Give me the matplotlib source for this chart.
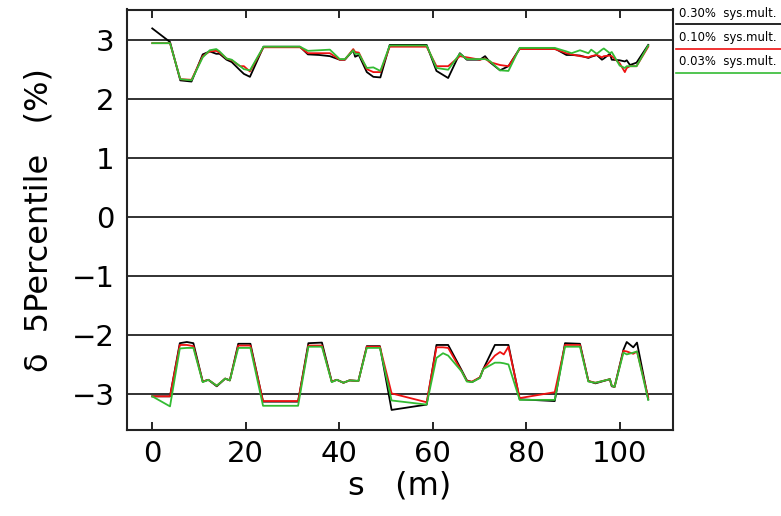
import matplotlib
matplotlib.use("Agg")
import matplotlib.pyplot as plt
from matplotlib.lines import Line2D

# ---------------- data ----------------
s_up = [0, 3.8, 6.0, 8.4, 10.8, 12.3, 13.7, 14.4, 15.9, 17.0, 18.8, 19.6, 20.9, 23.8,
        31.6, 33.3, 35.7, 38.0, 40.1, 41.2, 43.0, 43.4, 44.2, 45.9, 47.3, 48.8, 50.8,
        58.7, 60.8, 63.3, 65.8, 67.3, 70.1, 71.2, 72.2, 74.4, 76.2, 78.6, 86.1, 88.6,
        89.7, 91.5, 93.3, 93.9, 95.1, 96.2, 96.6, 97.9, 98.3, 100.0, 101.1, 101.5,
        102.2, 103.6, 106.1]

up_030 = [3.19, 2.96, 2.31, 2.29, 2.75, 2.80, 2.76, 2.76, 2.66, 2.62, 2.48, 2.42, 2.37, 2.88,
          2.88, 2.75, 2.74, 2.72, 2.66, 2.66, 2.82, 2.71, 2.74, 2.45, 2.37, 2.36, 2.91,
          2.91, 2.47, 2.35, 2.77, 2.66, 2.66, 2.72, 2.62, 2.48, 2.55, 2.85, 2.85, 2.74,
          2.74, 2.73, 2.69, 2.71, 2.74, 2.66, 2.68, 2.76, 2.66, 2.65, 2.63, 2.65,
          2.57, 2.61, 2.91]

up_010 = [2.94, 2.94, 2.33, 2.32, 2.72, 2.80, 2.81, 2.78, 2.68, 2.65, 2.55, 2.55, 2.46, 2.87,
          2.87, 2.77, 2.77, 2.77, 2.66, 2.66, 2.84, 2.79, 2.78, 2.50, 2.45, 2.45, 2.88,
          2.88, 2.55, 2.55, 2.72, 2.70, 2.66, 2.68, 2.62, 2.57, 2.55, 2.84, 2.84, 2.77,
          2.75, 2.72, 2.70, 2.72, 2.74, 2.70, 2.72, 2.73, 2.72, 2.60, 2.45, 2.52,
          2.55, 2.55, 2.88]

up_003 = [2.94, 2.94, 2.33, 2.31, 2.70, 2.82, 2.84, 2.80, 2.68, 2.66, 2.55, 2.50, 2.48, 2.88,
          2.88, 2.81, 2.82, 2.83, 2.67, 2.67, 2.82, 2.76, 2.76, 2.52, 2.53, 2.47, 2.90,
          2.90, 2.52, 2.49, 2.76, 2.67, 2.67, 2.67, 2.64, 2.48, 2.47, 2.86, 2.86, 2.80,
          2.77, 2.82, 2.77, 2.83, 2.76, 2.83, 2.85, 2.77, 2.79, 2.56, 2.52, 2.55,
          2.55, 2.55, 2.90]

s_lo = [0, 3.8, 5.9, 7.4, 8.8, 10.8, 12.0, 13.8, 15.6, 16.6, 18.4, 21.0, 23.7, 31.2,
        33.4, 36.3, 38.4, 39.5, 40.9, 42.2, 44.1, 45.9, 48.7, 51.2, 58.7, 60.8, 62.2,
        63.3, 66.2, 67.3, 68.4, 70.1, 70.8, 73.3, 74.4, 75.2, 76.2, 78.6, 86.1, 88.3,
        91.5, 93.3, 94.8, 97.9, 98.3, 98.9, 100.8, 101.5, 102.9, 103.7, 106.1]

lo_030 = [-3.04, -3.04, -2.14, -2.12, -2.14, -2.79, -2.76, -2.87, -2.74, -2.77, -2.15, -2.15, -3.13, -3.13,
          -2.14, -2.13, -2.79, -2.76, -2.81, -2.77, -2.78, -2.19, -2.19, -3.27, -3.18, -2.17, -2.17,
          -2.17, -2.60, -2.77, -2.80, -2.72, -2.58, -2.17, -2.17, -2.17, -2.17, -3.09, -3.12, -2.14,
          -2.15, -2.78, -2.82, -2.75, -2.87, -2.88, -2.25, -2.12, -2.21, -2.13, -3.09]

lo_010 = [-3.04, -3.04, -2.17, -2.17, -2.19, -2.79, -2.76, -2.86, -2.74, -2.77, -2.18, -2.18, -3.12, -3.12,
          -2.18, -2.18, -2.79, -2.76, -2.81, -2.77, -2.78, -2.20, -2.20, -2.99, -3.14, -2.21, -2.21,
          -2.22, -2.62, -2.78, -2.79, -2.72, -2.58, -2.35, -2.29, -2.33, -2.20, -3.07, -2.97, -2.17,
          -2.17, -2.78, -2.81, -2.75, -2.86, -2.88, -2.27, -2.28, -2.32, -2.28, -3.06]

lo_003 = [-3.04, -3.21, -2.23, -2.22, -2.22, -2.80, -2.76, -2.86, -2.74, -2.77, -2.22, -2.22, -3.20, -3.20,
          -2.20, -2.20, -2.80, -2.76, -2.81, -2.77, -2.78, -2.22, -2.22, -3.11, -3.18, -2.39, -2.31,
          -2.35, -2.62, -2.79, -2.80, -2.73, -2.58, -2.47, -2.47, -2.48, -2.50, -3.10, -3.10, -2.20,
          -2.20, -2.79, -2.81, -2.75, -2.86, -2.88, -2.30, -2.33, -2.30, -2.28, -3.10]

labels = ["0.30%  sys.mult.", "0.10%  sys.mult.", "0.03%  sys.mult."]
colors = ["#000000", "#ee1111", "#33bb33"]
x_ticks = [0, 20, 40, 60, 80, 100]
y_ticks = [-3, -2, -1, 0, 1, 2, 3]

# ---------------- figure ----------------
fig = plt.figure(figsize=(7.81, 5.16), dpi=100)
ax = fig.add_axes([127/781, 1 - 430/516, (673 - 127)/781, (430 - 9.5)/516])

for y in y_ticks:
    ax.axhline(y, color="#222222", lw=1.3, zorder=1)

ups = [up_030, up_010, up_003]
los = [lo_030, lo_010, lo_003]
for u, l, c in zip(ups, los, colors):
    ax.plot(s_up, u, color=c, lw=1.3, zorder=3)
    ax.plot(s_lo, l, color=c, lw=1.3, zorder=3)

ax.set_xlim(-5.4, 111.4)
ax.set_ylim(-3.61, 3.51)
ax.set_xticks(x_ticks)
ax.set_yticks(y_ticks)
ax.set_yticklabels([("\u2212" + str(-v)) if v < 0 else str(v) for v in y_ticks])
ax.tick_params(axis="x", direction="in", top=True, length=6, width=1.2,
               labelsize=21, pad=7)
ax.tick_params(axis="y", direction="in", length=0, labelsize=21, pad=9)
for sp in ax.spines.values():
    sp.set_linewidth(1.5)
    sp.set_color("#222222")

ax.set_xlabel("s   (m)", fontsize=23, labelpad=2)
ax.set_ylabel("\u03b4  5Percentile   (%)", fontsize=23, labelpad=12)

# legend outside on the right
text_y = [13, 38, 62]
line_y = [24, 49, 73]
for lab, c, ty, ly in zip(labels, colors, text_y, line_y):
    fig.text(679/781, 1 - ty/516, lab, fontsize=8.4, va="center", ha="left")
    fig.add_artist(Line2D([676/781, 1.0], [1 - ly/516, 1 - ly/516],
                          color=c, lw=1.2, transform=fig.transFigure))

fig.savefig("out.png", dpi=100)
